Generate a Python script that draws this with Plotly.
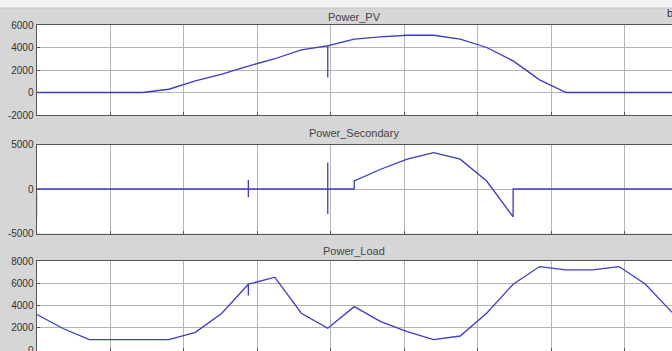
import plotly.graph_objects as go

# ---------------- data (time in hours, values in W) ----------------
hours = list(range(25))
pv_power = [0, 0, 0, 0, 0, 290, 1030, 1630, 2350, 3000, 3790, 4150, 4740,
            4950, 5090, 5090, 4740, 4000, 2810, 1120, 0, 0, 0, 0, 0]
load_power = [3230, 1950, 950, 950, 950, 950, 1610, 3320, 5920, 6550, 3320,
              1970, 3910, 2570, 1670, 950, 1280, 3320, 5920, 7500, 7200, 7200,
              7500, 5920, 3400]
# secondary: explicit breakpoints (duplicated hours = steps / transients)
sec_hours = [0, 0, 8, 8, 8, 8, 11, 11, 11, 11, 12, 12, 13, 14, 15, 16, 17, 18, 18, 24]
sec_power = [-3230, 0, 0, 1000, -940, 0, 0, 2970, -2820, 0, 0, 900, 2220,
             3350, 4090, 3350, 900, -3120, 0, 0]
# transients (hour, extreme value)
pv_spike = (11, 1330)
load_spike = (8, 4900)

titles = ["Power_PV", "Power_Secondary", "Power_Load"]
pv_ticks = [-2000, 0, 2000, 4000, 6000]
sec_ticks = [-5000, 0, 5000]
load_ticks = [0, 2000, 4000, 6000, 8000]


def with_spike(h, v, spike):
    xs, ys = [], []
    for hh, vv in zip(h, v):
        xs.append(hh * 3600)
        ys.append(vv)
        if hh == spike[0]:
            xs += [hh * 3600, hh * 3600]
            ys += [spike[1], vv]
    return xs, ys


W, H = 672, 351
LINE = dict(color="#3c3cc4", width=1.3)
GRAY = "#d6d6d6"

fig = go.Figure()
x1, y1 = with_spike(hours, pv_power, pv_spike)
x3, y3 = with_spike(hours, load_power, load_spike)
fig.add_trace(go.Scatter(x=x1, y=y1, mode="lines", line=LINE, xaxis="x", yaxis="y"))
fig.add_trace(go.Scatter(x=[h * 3600 for h in sec_hours], y=sec_power, mode="lines",
                         line=LINE, xaxis="x2", yaxis="y2"))
fig.add_trace(go.Scatter(x=x3, y=y3, mode="lines", line=LINE, xaxis="x3", yaxis="y3"))

xl = 36.5 / W


def dom(top, bottom):
    return [1 - bottom / H, 1 - top / H]


doms = [dom(25, 115), dom(144.5, 233.5), dom(261, 351)]
ranges = [[-2000, 6000], [-5000, 5000], [-63, 8000]]
ticks = [pv_ticks, sec_ticks, load_ticks]

axcommon = dict(showgrid=True, gridcolor="#b4b4b4", gridwidth=1, zeroline=False,
                showline=True, linecolor="#555555", linewidth=1, mirror=True,
                ticks="inside", ticklen=3, tickcolor="#555555", automargin=False)

layout = dict(width=W, height=H, margin=dict(l=0, r=0, t=0, b=0, pad=0),
              paper_bgcolor=GRAY, plot_bgcolor="white", showlegend=False,
              font=dict(family="Liberation Sans, Arial, sans-serif", color="#333333"))
for i in range(3):
    s = "" if i == 0 else str(i + 1)
    layout["xaxis" + s] = dict(domain=[xl, 1], range=[0, 86400], dtick=10000,
                               tick0=0, showticklabels=False,
                               anchor="y" + s, **axcommon)
    layout["yaxis" + s] = dict(domain=doms[i], range=ranges[i], tickvals=ticks[i],
                               ticktext=[str(t) for t in ticks[i]],
                               tickfont=dict(size=10, color="#333333"),
                               ticklabeloverflow="allow",
                               anchor="x" + s, **axcommon)
fig.update_layout(**layout)

title_y = [16.5, 133, 251]
for t, ty in zip(titles, title_y):
    fig.add_annotation(text=t, xref="paper", yref="paper", x=(xl + 1) / 2,
                       y=1 - ty / H, showarrow=False, xanchor="center", yanchor="middle",
                       font=dict(size=11, color="#444444"))
fig.add_annotation(text="b", xref="paper", yref="paper", x=665 / W, y=1 - 13 / H,
                   showarrow=False, xanchor="left", yanchor="middle",
                   font=dict(size=11, color="#333333"))
# light strip at the very top of the window
fig.add_shape(type="rect", xref="paper", yref="paper", x0=0, x1=1, y0=1 - 8 / H, y1=1,
              fillcolor="#f2f2f2", line=dict(width=0), layer="below")
fig.add_shape(type="line", xref="paper", yref="paper", x0=0, x1=1, y0=1 - 8 / H,
              y1=1 - 8 / H, line=dict(color="#c4c4c4", width=1))

fig.write_html("out.html", config={"displayModeBar": False},
               post_script="document.body.style.margin='0';document.body.style.overflow='hidden';")
